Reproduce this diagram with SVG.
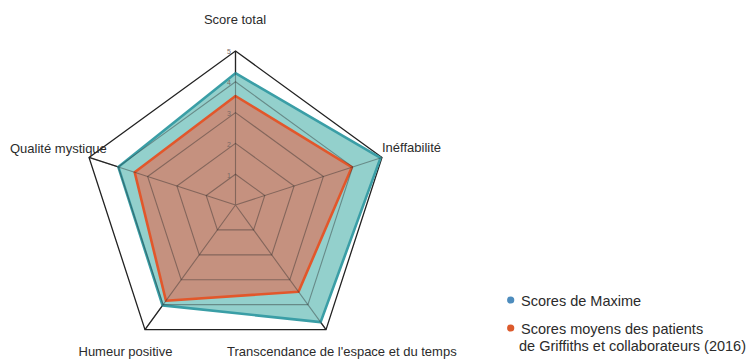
<svg xmlns="http://www.w3.org/2000/svg" width="755" height="359" viewBox="0 0 755 359">
<style>
.lbl{font-family:"Liberation Sans",Arial,sans-serif;font-size:13px;fill:#2b2b2b}
.leg{font-family:"Liberation Sans",Arial,sans-serif;font-size:14.5px;fill:#2b2b2b}
.tick{font-family:"Liberation Sans",Arial,sans-serif;font-size:7px;fill:#7a6a66;text-anchor:end}
.outer{fill:none;stroke:#222;stroke-width:1.3}
.grid{fill:none;stroke:#2a2a2a;stroke-opacity:0.42;stroke-width:1.1}
</style>
<rect width="755" height="359" fill="#ffffff"/>
<g id="axes-outer">
<polygon class="outer" points="235.5,51 381.97,157.41 326.02,329.59 144.98,329.59 89.03,157.41"/>
<path class="outer" d="M235.5,205L235.5,51M235.5,205L381.97,157.41M235.5,205L326.02,329.59M235.5,205L144.98,329.59M235.5,205L89.03,157.41"/>
</g>
<g id="series-maxime">
<polygon points="235.5,73.2 380.54,157.88 320.61,322.14 162.55,305.4 118.32,166.93" fill="#93d0cc" stroke="#3a9ea6" stroke-width="2.6" stroke-linejoin="round"/>
</g>
<g id="series-griffiths">
<polygon points="235.5,96 351.82,167.21 298.51,291.72 165.96,300.7 134.68,172.25" fill="#c5917f" stroke="#e2572b" stroke-width="2.6" stroke-linejoin="round"/>
</g>
<g id="grid">
<polygon class="grid" points="235.5,174.2 264.79,195.48 253.6,229.92 217.4,229.92 206.21,195.48"/>
<polygon class="grid" points="235.5,143.4 294.09,185.97 271.71,254.83 199.29,254.83 176.91,185.97"/>
<polygon class="grid" points="235.5,112.6 323.38,176.45 289.81,279.75 181.19,279.75 147.62,176.45"/>
<polygon class="grid" points="235.5,81.8 352.68,166.93 307.92,304.67 163.08,304.67 118.32,166.93"/>
<path class="grid" d="M235.5,205L235.5,51M235.5,205L381.97,157.41M235.5,205L326.02,329.59M235.5,205L144.98,329.59M235.5,205L89.03,157.41"/>
<text class="tick" x="231" y="177.5">1</text>
<text class="tick" x="231" y="146.5">2</text>
<text class="tick" x="231" y="115.5">3</text>
<text class="tick" x="231" y="84.5">4</text>
<text class="tick" x="231" y="53.5">5</text>
</g>
<g id="axis-labels">
<text class="lbl" x="235" y="24" text-anchor="middle">Score total</text>
<text class="lbl" x="382" y="152">Inéffabilité</text>
<text class="lbl" x="10" y="152.5">Qualité mystique</text>
<text class="lbl" x="78.5" y="356">Humeur positive</text>
<text class="lbl" x="227" y="356">Transcendance de l'espace et du temps</text>
</g>
<g id="legend">
<circle cx="510.7" cy="300" r="3.6" fill="#4d8cbd"/>
<text class="leg" x="521" y="305.5">Scores de Maxime</text>
<circle cx="510.7" cy="328" r="3.6" fill="#dc5a2c"/>
<text class="leg" x="521" y="334">Scores moyens des patients</text>
<text class="leg" x="519" y="351">de Griffiths et collaborateurs (2016)</text>
</g>
</svg>
